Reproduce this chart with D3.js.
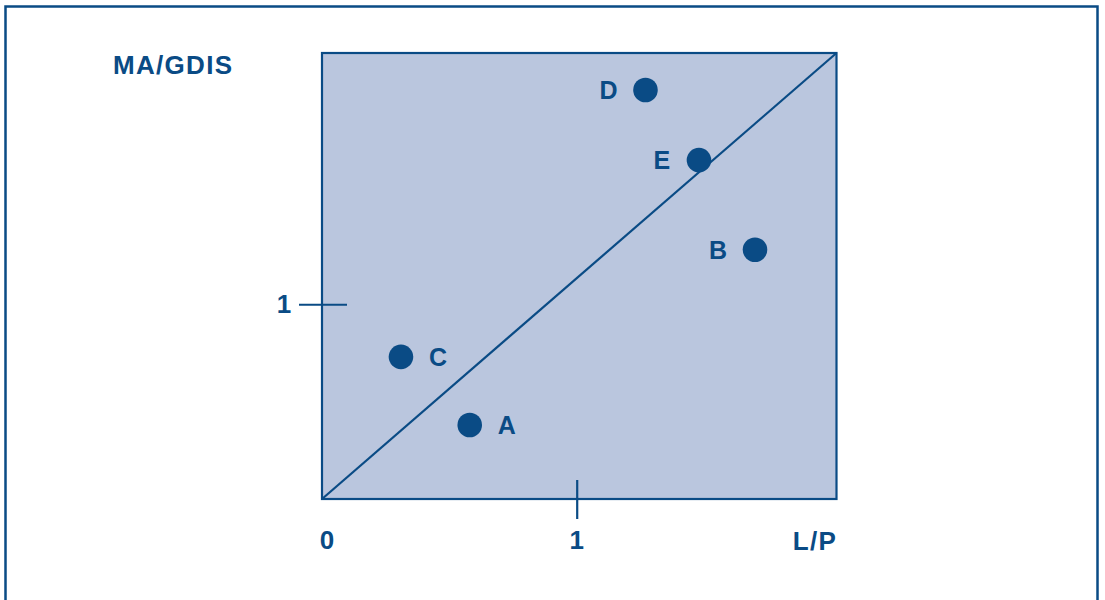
<!DOCTYPE html>
<html>
<head>
<meta charset="utf-8">
<script src="https://cdn.jsdelivr.net/npm/d3@7"></script>
<style>
html,body{margin:0;padding:0;background:#fff;}
svg{display:block;}
text{font-family:"Liberation Sans",Arial,sans-serif;font-weight:bold;fill:#0a4b85;}
</style>
</head>
<body>
<svg id="chart" width="1105" height="600"></svg>
<script>
const labels = ["D", "E", "B", "C", "A"];
const lpValues = [1.27, 1.48, 1.70, 0.31, 0.58];
const magdisValues = [2.10, 1.74, 1.28, 0.73, 0.38];
const labelSide = [-1, -1, -1, 1, 1];
const xTicks = [0, 1];
const yTicks = [1];
const xDomain = [0, 2.02];
const yDomain = [0, 2.29];

const dark = "#0a4b85", fill = "#bac6de";
const svg = d3.select("#chart");
const margin = {left: 322, top: 53, right: 1105 - 836.5, bottom: 600 - 499};
const x = d3.scaleLinear().domain(xDomain).range([margin.left, 1105 - margin.right]);
const y = d3.scaleLinear().domain(yDomain).range([600 - margin.bottom, margin.top]);

// outer frame
svg.append("rect").attr("x", 5.5).attr("y", 6.5).attr("width", 1092).attr("height", 640)
  .attr("fill", "none").attr("stroke", dark).attr("stroke-width", 2.5);

// plot square
svg.append("rect").attr("x", x(xDomain[0])).attr("y", y(yDomain[1]))
  .attr("width", x(xDomain[1]) - x(xDomain[0])).attr("height", y(yDomain[0]) - y(yDomain[1]))
  .attr("fill", fill).attr("stroke", dark).attr("stroke-width", 2.2);

// diagonal
svg.append("line").attr("x1", x(xDomain[0])).attr("y1", y(yDomain[0]))
  .attr("x2", x(xDomain[1])).attr("y2", y(yDomain[1]))
  .attr("stroke", dark).attr("stroke-width", 2.2);

// axes ticks via d3 axes
const xAxis = d3.axisBottom(x).tickValues(xTicks.filter(d => d !== 0)).tickSize(20).tickFormat("");
svg.append("g").attr("transform", `translate(0,${y(0)})`).call(xAxis)
  .call(g => g.select(".domain").remove())
  .call(g => g.selectAll(".tick line").attr("stroke", dark).attr("stroke-width", 2.2).attr("y1", -19));
const yAxis = d3.axisLeft(y).tickValues(yTicks).tickSize(23).tickFormat("");
svg.append("g").attr("transform", `translate(${x(0)},0)`).call(yAxis)
  .call(g => g.select(".domain").remove())
  .call(g => g.selectAll(".tick line").attr("stroke", dark).attr("stroke-width", 2.2).attr("x1", 25));

// tick labels
svg.selectAll(".xl").data(xTicks).enter().append("text")
  .attr("x", d => x(d) + (d === 0 ? 5 : 0)).attr("y", 549)
  .attr("text-anchor", "middle").attr("font-size", 26).text(d => d);
svg.selectAll(".yl").data(yTicks).enter().append("text")
  .attr("x", x(0) - 38).attr("y", d => y(d) + 9)
  .attr("text-anchor", "middle").attr("font-size", 26).text(d => d);

// axis titles
svg.append("text").attr("x", 113).attr("y", 74).attr("font-size", 26)
  .attr("letter-spacing", 1.3).text("MA/GDIS");
svg.append("text").attr("x", 815).attr("y", 550).attr("text-anchor", "middle")
  .attr("font-size", 26).attr("letter-spacing", 1.3).text("L/P");

// points
const pts = labels.map((l, i) => ({l, x: lpValues[i], y: magdisValues[i], s: labelSide[i]}));
svg.selectAll("circle.pt").data(pts).enter().append("circle")
  .attr("cx", d => x(d.x)).attr("cy", d => y(d.y)).attr("r", 12.3).attr("fill", dark);
svg.selectAll("text.pl").data(pts).enter().append("text")
  .attr("x", d => x(d.x) + d.s * 37).attr("y", d => y(d.y) + 9)
  .attr("text-anchor", "middle").attr("font-size", 25).text(d => d.l);
</script>
</body>
</html>
